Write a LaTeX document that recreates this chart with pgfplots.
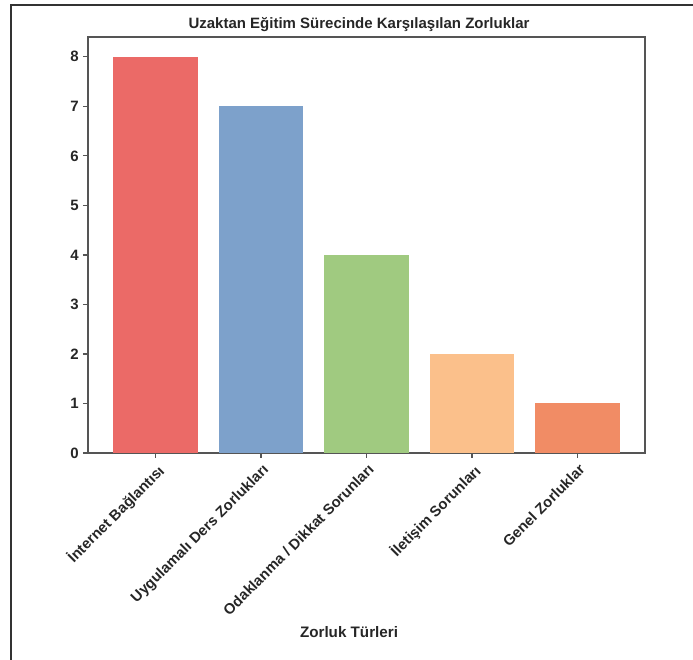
\documentclass[border=0pt]{standalone}
\usepackage{fontspec}
\setmainfont{Liberation Sans}
\usepackage{pgfplots}
\pgfplotsset{compat=1.18}
\definecolor{c1}{HTML}{EB6A67}
\definecolor{c2}{HTML}{7DA1CB}
\definecolor{c3}{HTML}{A0CA80}
\definecolor{c4}{HTML}{FBC08B}
\definecolor{c5}{HTML}{F18C65}
\definecolor{axc}{HTML}{555555}
\begin{document}
\begin{tikzpicture}[x=1pt,y=1pt]
\useasboundingbox (0,0) rectangle (693,660);
\draw[line width=1.5pt, color=black!80] (11,0) -- (11,655) -- (693,655);
\begin{axis}[
  at={(88pt,207pt)}, anchor=south west,
  scale only axis, width=557pt, height=416pt,
  xmin=-0.64, xmax=4.64, ymin=0, ymax=8.4,
  ytick={0,1,2,3,4,5,6,7,8},
  xtick={0,1,2,3,4},
  xticklabels={İnternet Bağlantısı, Uygulamalı Ders Zorlukları, Odaklanma / Dikkat Sorunları, İletişim Sorunları, Genel Zorluklar},
  x tick label style={rotate=45, anchor=north east, font=\fontsize{14.8}{16}\selectfont\bfseries\color{black!85}, inner sep=1pt, xshift=-2pt, yshift=-3pt},
  y tick label style={font=\fontsize{15}{17}\selectfont\bfseries\color{black!85}, inner sep=1pt, xshift=-3pt},
  /pgf/number format/assume math mode=true,
  axis line style={color=axc, line width=1.5pt},
  tick style={color=axc, line width=1.2pt},
  tick align=outside, major tick length=5pt,
  xtick pos=bottom, ytick pos=left,
  bar width=0.8, ybar, bar shift=0pt,
]
\addplot[fill=c1, draw=none] coordinates {(0,8)};
\addplot[fill=c2, draw=none] coordinates {(1,7)};
\addplot[fill=c3, draw=none] coordinates {(2,4)};
\addplot[fill=c4, draw=none] coordinates {(3,2)};
\addplot[fill=c5, draw=none] coordinates {(4,1)};
\end{axis}
\node[font=\fontsize{15}{17}\selectfont\bfseries, text=black!85] at (359,635) {Uzaktan Eğitim Sürecinde Karşılaşılan Zorluklar};
\node[font=\fontsize{15.2}{17}\selectfont\bfseries, text=black!85] at (349,28) {Zorluk Türleri};
\end{tikzpicture}
\end{document}
